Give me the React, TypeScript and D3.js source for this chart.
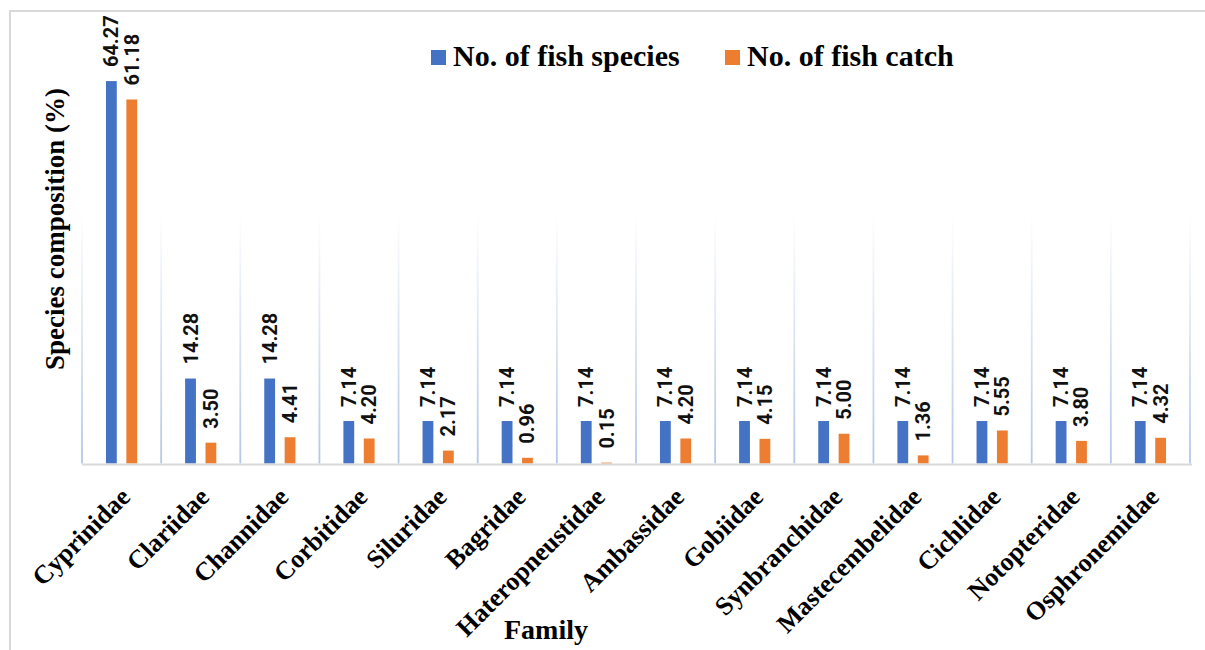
import React from "react";
import * as d3 from "d3";

const families = [
  "Cyprinidae",
  "Clariidae",
  "Channidae",
  "Corbitidae",
  "Siluridae",
  "Bagridae",
  "Hateropneustidae",
  "Ambassidae",
  "Gobiidae",
  "Synbranchidae",
  "Mastecembelidae",
  "Cichlidae",
  "Notopteridae",
  "Osphronemidae",
];

const speciesPct = [64.27, 14.28, 14.28, 7.14, 7.14, 7.14, 7.14, 7.14, 7.14, 7.14, 7.14, 7.14, 7.14, 7.14];
const catchPct = [61.18, 3.5, 4.41, 4.2, 2.17, 0.96, 0.15, 4.2, 4.15, 5.0, 1.36, 5.55, 3.8, 4.32];

const seriesNames = ["No. of fish species", "No. of fish catch"];
const seriesColors = ["#4472c4", "#ed7d31"];

const W = 1205;
const H = 650;
const plotLeft = 82;
const plotRight = 1190;
const plotTop = 47;
const plotBottom = 463.5;

export default function App() {
  const x = d3.scaleBand<string>().domain(families).range([plotLeft, plotRight]).paddingInner(0).paddingOuter(0);
  const inner = d3.scaleBand<string>().domain(seriesNames).range([-15.6, 15.6]).paddingInner(0.47);
  const y = d3.scaleLinear().domain([0, 70]).range([plotBottom, plotTop]);

  const serif = "'Liberation Serif', 'Times New Roman', serif";
  const sans = "Roboto, 'Noto Sans', sans-serif";

  const boundaries = d3.range(families.length + 1).map((i) => plotLeft + i * x.step());
  const values = [speciesPct, catchPct];

  return (
    <svg
      width={W}
      height={H}
      viewBox={`0 0 ${W} ${H}`}
      style={{ position: "absolute", left: 0, top: 0, background: "#fff", overflow: "hidden" }}
    >
      <defs>
        <linearGradient id="gridFade" x1="0" y1={plotTop} x2="0" y2={plotBottom} gradientUnits="userSpaceOnUse">
          <stop offset="0" stopColor="#b4c7e7" stopOpacity={0} />
          <stop offset="0.4" stopColor="#b4c7e7" stopOpacity={0} />
          <stop offset="1" stopColor="#b4c7e7" stopOpacity={1} />
        </linearGradient>
      </defs>

      {/* chart frame */}
      <rect x={10} y={11} width={1230} height={680} fill="none" stroke="#d9d9d9" strokeWidth={2} />

      {/* vertical category separators */}
      {boundaries.map((bx, i) => (
        <rect key={i} x={bx - 0.9} y={plotTop} width={1.8} height={plotBottom - plotTop} fill="url(#gridFade)" />
      ))}

      {/* bars */}
      {families.map((f, i) => {
        const cx = (x(f) as number) + x.bandwidth() / 2;
        return (
          <g key={f}>
            {seriesNames.map((s, k) => {
              const v = values[k][i];
              const bx = cx + (inner(s) as number);
              const top = y(v);
              return (
                <rect
                  key={s}
                  x={bx}
                  y={top}
                  width={inner.bandwidth()}
                  height={plotBottom - top}
                  fill={seriesColors[k]}
                />
              );
            })}
          </g>
        );
      })}

      {/* baseline */}
      <line x1={plotLeft} x2={plotRight + 2} y1={plotBottom + 1} y2={plotBottom + 1} stroke="#d9d9d9" strokeWidth={2} />

      {/* value labels */}
      {families.map((f, i) => {
        const cx = (x(f) as number) + x.bandwidth() / 2;
        return seriesNames.map((s, k) => {
          const v = values[k][i];
          const lx = cx + (inner(s) as number) + inner.bandwidth() / 2;
          const ly = y(v) - 14;
          return (
            <text
              key={f + s}
              transform={`translate(${lx},${ly}) rotate(-90)`}
              textAnchor="start"
              dominantBaseline="central"
              fontFamily={sans}
              fontWeight={700}
              fontSize={20}
              fill="#111"
            >
              {v.toFixed(2)}
            </text>
          );
        });
      })}

      {/* category labels */}
      {families.map((f) => {
        const cx = (x(f) as number) + x.bandwidth() / 2;
        return (
          <text
            key={f}
            transform={`translate(${cx + 10},${plotBottom + 35}) rotate(-45)`}
            textAnchor="end"
            fontFamily={serif}
            fontWeight={700}
            fontSize={26}
            fill="#000"
          >
            {f}
          </text>
        );
      })}

      {/* axis titles */}
      <text x={546} y={639} textAnchor="middle" fontFamily={serif} fontWeight={700} fontSize={28} fill="#000">
        Family
      </text>
      <text
        transform={`translate(64,229) rotate(-90)`}
        textAnchor="middle"
        fontFamily={serif}
        fontWeight={700}
        fontSize={27}
        fill="#000"
      >
        Species composition (%)
      </text>

      {/* legend */}
      {seriesNames.map((s, k) => {
        const lx = [431, 725][k];
        return (
          <g key={s}>
            <rect x={lx} y={50} width={15} height={15} fill={seriesColors[k]} />
            <text x={lx + 22} y={66} fontFamily={serif} fontWeight={700} fontSize={30} fill="#000">
              {s}
            </text>
          </g>
        );
      })}
    </svg>
  );
}
